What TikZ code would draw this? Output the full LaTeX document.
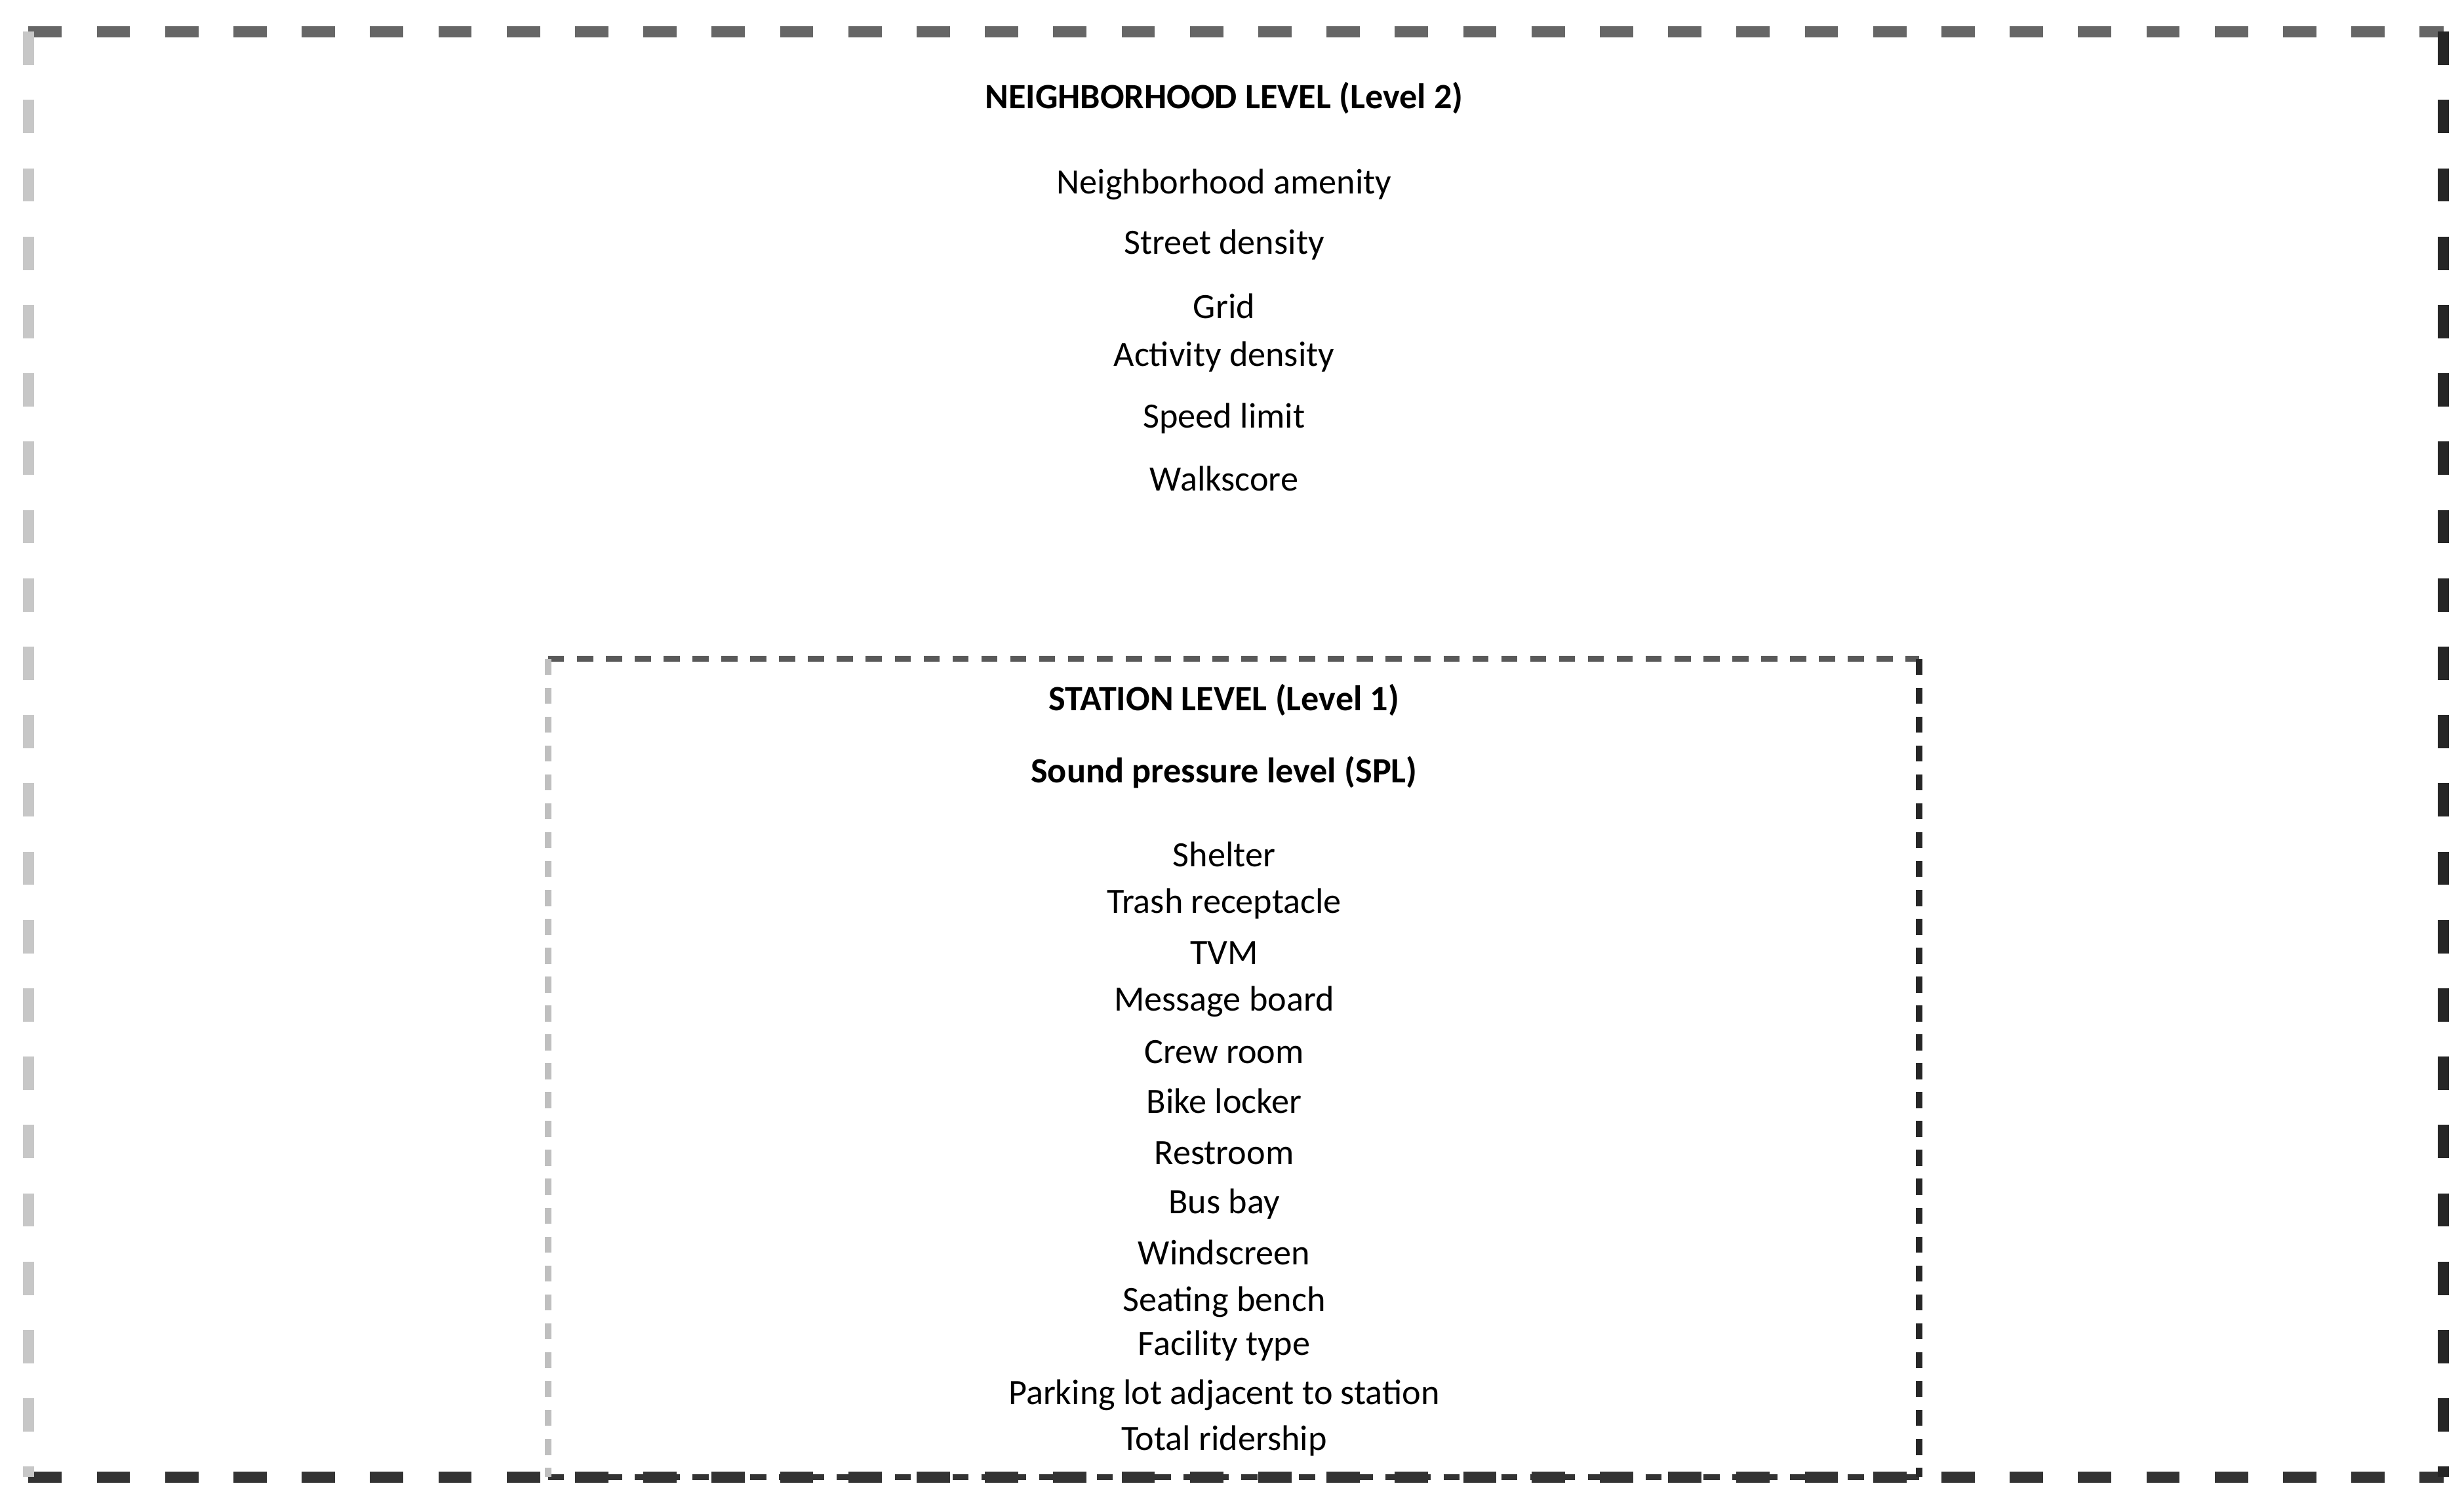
\documentclass[tikz,border=0pt]{standalone}
\usepackage{fontspec}
\setmainfont{Carlito}
\usetikzlibrary{positioning}
\tikzset{item/.style={font=\fontsize{6.4pt}{7pt}\selectfont, inner sep=0pt},
         head/.style={item, font=\fontsize{6.4pt}{7pt}\selectfont\bfseries},
         outerdash/.style={line width=2pt, dash pattern=on 6pt off 6.3pt},
         innerdash/.style={line width=1.1pt, dash pattern=on 2.9pt off 2.3pt}}
\begin{document}
\begin{tikzpicture}[x=0.01cm,y=-0.01cm]
  \useasboundingbox (0,0) rectangle (1560,955);
  % outer box
  \coordinate (otl) at (18,20); \coordinate (otr) at (1547,20);
  \coordinate (obl) at (18,935); \coordinate (obr) at (1547,935);
  \draw[outerdash, black!60] (otl) -- (otr);
  \draw[outerdash, black!80] (obl) -- (obr);
  \draw[outerdash, black!22] (otl) -- (obl);
  \draw[outerdash, black!85] (otr) -- (obr);
  % inner box
  \coordinate (itl) at (347,417); \coordinate (itr) at (1215,417);
  \coordinate (ibl) at (347,935); \coordinate (ibr) at (1215,935);
  \draw[innerdash, black!65] (itl) -- (itr);
  \draw[innerdash, black!80] (ibl) -- (ibr);
  \draw[innerdash, black!25] (itl) -- (ibl);
  \draw[innerdash, black!85] (itr) -- (ibr);

  \node[head] (nlevel) at (775,62) {NEIGHBORHOOD LEVEL (Level 2)};
  \foreach \t/\y [count=\n] in {Neighborhood amenity/117, Street density/155, Grid/194,
      Activity density/226, Speed limit/265, Walkscore/303}
    \node[item] (n\n) at (775,\y) {\t};

  \node[head] (slevel) at (775,443) {STATION LEVEL (Level 1)};
  \node[head] (spl) at (775,489) {Sound pressure level (SPL)};
  \foreach \t/\y [count=\n] in {Shelter/541, Trash receptacle/572, TVM/603,
      Message board/634, Crew room/666, Bike locker/697, Restroom/730,
      Bus bay/762, Windscreen/793, Seating bench/824, Facility type/852,
      Parking lot adjacent to station/883, Total ridership/912}
    \node[item] (s\n) at (775,\y) {\t};
\end{tikzpicture}
\end{document}
